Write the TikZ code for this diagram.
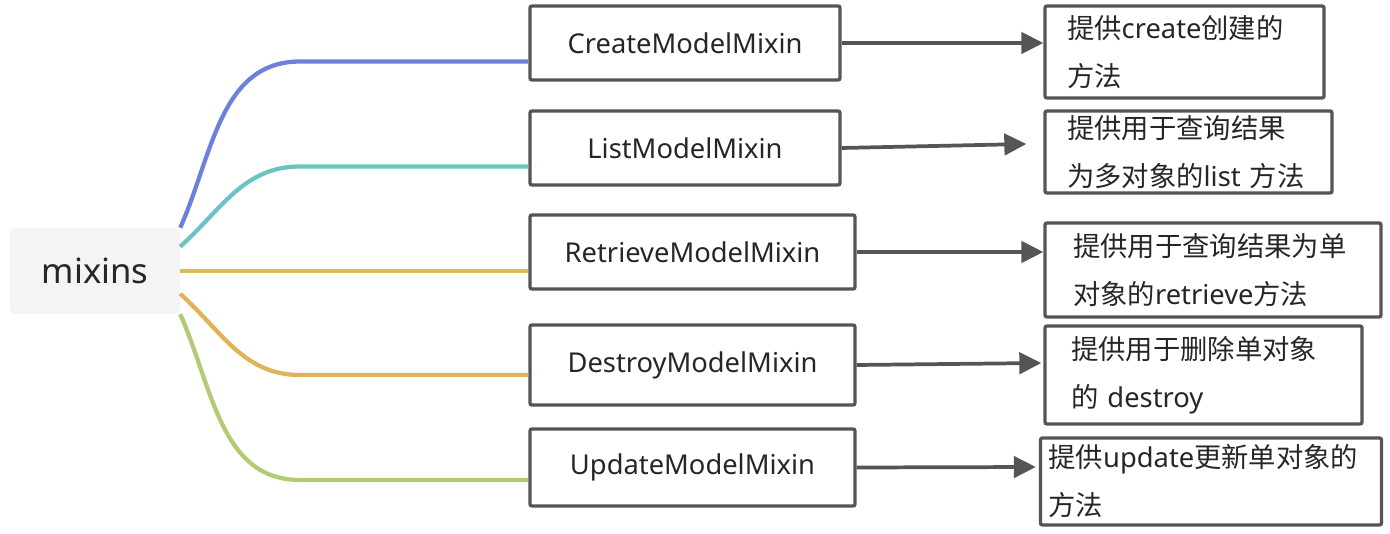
\documentclass[tikz,border=0pt]{standalone}
\usepackage{fontspec}
\setmainfont{Noto Sans}
\newfontfamily\cjk{Noto Sans CJK SC}
\newcommand{\hanzi}[1]{{\cjk #1}}
\usetikzlibrary{arrows.meta,calc}
\definecolor{boxgray}{HTML}{555555}
\definecolor{rootfill}{HTML}{F4F4F4}
\definecolor{txtgray}{HTML}{262626}
\definecolor{cCreate}{HTML}{6F80DC}
\definecolor{cList}{HTML}{6CC4C2}
\definecolor{cRetrieve}{HTML}{E0B95B}
\definecolor{cDestroy}{HTML}{E2B356}
\definecolor{cUpdate}{HTML}{B1CB76}

\begin{document}
\begin{tikzpicture}[x = 0.75pt, y = -0.75pt,
    mixin/.style = {draw = boxgray, line width = 2.5pt, rounded corners = 1.5pt, text = txtgray,
        inner sep = 0pt, font = \fontsize{20.5}{24}\selectfont},
    note/.style = {mixin, align = left, inner ysep = 0pt, font = \fontsize{20.5}{36}\selectfont},
    branch/.style = {line width = 3.2pt},
    pointer/.style = {draw = boxgray, line width = 2.8pt, -{Triangle[length = 16.5pt, width = 16pt]}}]
    \useasboundingbox (0, 0) rectangle (1390, 534);

    \node [fill = rootfill, rounded corners = 5pt, text = txtgray, minimum width = 127.5pt,
        minimum height = 64.5pt, font = \fontsize{26}{30}\selectfont] (root) at (95, 271) {mixins};

    \node [mixin, minimum width = 232.5pt, minimum height = 55.5pt] (create) at (685, 43) {CreateModelMixin};
    \node [mixin, minimum width = 232.5pt, minimum height = 55.5pt] (list) at (685, 148) {ListModelMixin};
    \node [mixin, minimum width = 243.75pt, minimum height = 55.5pt] (retrieve) at (692.5, 252) {RetrieveModelMixin};
    \node [mixin, minimum width = 243.75pt, minimum height = 60pt] (destroy) at (692.5, 365) {DestroyModelMixin};
    \node [mixin, minimum width = 243.75pt, minimum height = 57.75pt] (update) at (692.5, 467.5) {UpdateModelMixin};

    \node [note, inner xsep = 16.5pt, text width = 176.25pt, minimum height = 69pt] (createnote) at (1184.5, 52)
        {\hanzi{提供}create\hanzi{创建的}\\\hanzi{方法}};
    \node [note, inner xsep = 16.5pt, text width = 182.25pt, minimum height = 61.5pt] (listnote) at (1188.5, 152)
        {\hanzi{提供用于查询结果}\\\hanzi{为多对象的}list \hanzi{方法}};
    \node [note, inner xsep = 21pt, text width = 210pt, minimum height = 70.5pt] (retrievenote) at (1213, 270)
        {\hanzi{提供用于查询结果为单}\\\hanzi{对象的}retrieve\hanzi{方法}};
    \node [note, inner xsep = 19.5pt, text width = 198.75pt, minimum height = 73.5pt] (destroynote) at (1203.5, 375)
        {\hanzi{提供用于删除单对象}\\\hanzi{的} destroy};
    \node [note, inner xsep = 6pt, text width = 243.75pt, minimum height = 65.25pt] (updatenote) at (1211, 481.5)
        {\hanzi{提供}update\hanzi{更新单对象的}\\\hanzi{方法}};

    \draw [branch, cCreate] (root.north east) to [out = 66, in = 180] (300, 61.5) -- ($(create.west) + (0, 18.5)$);
    \draw [branch, cList] (root.16) to [out = 42, in = 180] (300, 166.5) -- ($(list.west) + (0, 18.5)$);
    \draw [branch, cRetrieve] (root.east) -- ($(retrieve.west) + (0, 19)$);
    \draw [branch, cDestroy] (root.-15) to [out = -42, in = 180] (300, 375) -- ($(destroy.west) + (0, 10)$);
    \draw [branch, cUpdate] (root.south east) to [out = -66, in = 180] (300, 480) -- ($(update.west) + (0, 12.5)$);

    \draw [pointer] (create.east) -- (create.east -| createnote.west);
    \draw [pointer] (list.east) -- ($(listnote.west) + (-17, -8)$);
    \draw [pointer] (retrieve.east) -- (retrieve.east -| retrievenote.west);
    \draw [pointer] (destroy.east) -- ($(destroynote.west) + (-2, -12)$);
    \draw [pointer] (update.east) -- ($(updatenote.west) + (-3, -14.5)$);
\end{tikzpicture}
\end{document}
